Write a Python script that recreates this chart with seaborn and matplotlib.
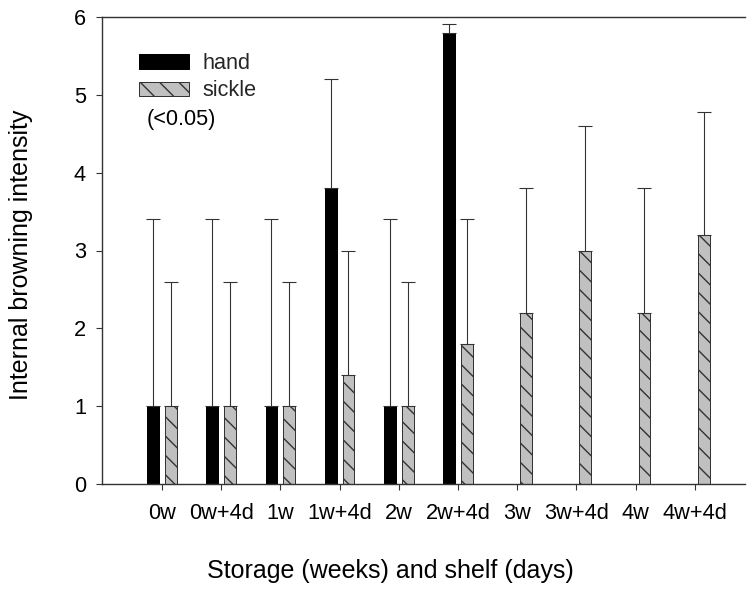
import numpy as np
import pandas as pd
import matplotlib
matplotlib.use("Agg")
import matplotlib.pyplot as plt
from matplotlib.patches import Patch
import seaborn as sns

# ---------------- data ----------------
categories = ["0w", "0w+4d", "1w", "1w+4d", "2w", "2w+4d", "3w", "3w+4d", "4w", "4w+4d"]
methods = ["hand", "sickle"]
hand_mean = [1.0, 1.0, 1.0, 3.8, 1.0, 5.8, np.nan, np.nan, np.nan, np.nan]
hand_sd = [2.4, 2.4, 2.4, 1.4, 2.4, 0.11, np.nan, np.nan, np.nan, np.nan]
sickle_mean = [1.0, 1.0, 1.0, 1.4, 1.0, 1.8, 2.2, 3.0, 2.2, 3.2]
sickle_sd = [1.6, 1.6, 1.6, 1.6, 1.6, 1.6, 1.6, 1.6, 1.6, 1.58]
y_ticks = [0, 1, 2, 3, 4, 5, 6]
note_text = "(<0.05)"
x_label = "Storage (weeks) and shelf (days)"
y_label = "Internal browning intensity"

# ---------------- style ----------------
W, H = 747, 589
DPI = 116
def pt(px):
    return px * 72.0 / DPI

sns.set_theme(style="ticks")
plt.rcParams["font.family"] = ["Liberation Sans", "DejaVu Sans"]
plt.rcParams["hatch.linewidth"] = pt(1.4)

LINE = "#333333"
FACE = {"hand": "#000000", "sickle": "#c0c0c0"}
EDGE = {"hand": "#000000", "sickle": "#333333"}
SD = {"hand": hand_sd, "sickle": sickle_sd}

rows = []
for m, means in (("hand", hand_mean), ("sickle", sickle_mean)):
    for c, v in zip(categories, means):
        if not np.isnan(v):
            rows.append({"storage": c, "method": m, "intensity": v})
df = pd.DataFrame(rows)

fig = plt.figure(figsize=(W / DPI, H / DPI), dpi=DPI)
fig.patch.set_facecolor("white")
ax = fig.add_axes([102 / W, (H - 484) / H, 643 / W, 467 / H])
ax.set_facecolor("white")

sns.barplot(data=df, x="storage", y="intensity", hue="method",
            order=categories, hue_order=methods, palette=FACE,
            width=0.6, gap=0.34, dodge=True, errorbar=None, legend=False,
            linewidth=pt(1.0), ax=ax)

# style bars and add one-sided error bars
for cont, m in zip(ax.containers, methods):
    for bar in cont:
        bar.set_edgecolor(EDGE[m])
        if m == "sickle":
            bar.set_hatch("\\\\")
        xc = bar.get_x() + bar.get_width() / 2
        idx = int(round(xc))
        h = bar.get_height()
        err = SD[m][idx]
        ax.errorbar(xc, h, yerr=[[0], [err]], fmt="none", ecolor=LINE,
                    elinewidth=pt(1.1), capsize=pt(7), capthick=pt(1.1), zorder=1)

ax.set_xlim(-1.013, 9.848)
ax.set_ylim(0, 6)
ax.set_yticks(y_ticks)
ax.set_yticklabels([str(t) for t in y_ticks])

for side in ("left", "bottom", "top"):
    ax.spines[side].set_visible(True)
    ax.spines[side].set_color(LINE)
    ax.spines[side].set_linewidth(pt(1.4))
ax.spines["right"].set_visible(False)

ax.tick_params(axis="both", direction="out", length=pt(6), width=pt(1.1),
               color=LINE, labelsize=pt(21.7), labelcolor="black")
ax.tick_params(axis="x", pad=pt(13))
ax.tick_params(axis="y", pad=pt(10))
ax.tick_params(top=False, right=False)

ax.set_xlabel(x_label, fontsize=pt(25), color="black")
ax.set_ylabel(y_label, fontsize=pt(25), color="black")
ax.xaxis.set_label_coords((390 - 102) / 643, -(559 - 484) / 467)
ax.yaxis.set_label_coords((33 - 102) / 643, (484 - 255) / 467)

# legend
handles = []
for cont, m in zip(ax.containers, methods):
    b = cont[0]
    handles.append(Patch(facecolor=b.get_facecolor(), edgecolor=b.get_edgecolor(),
                         hatch=b.get_hatch(), linewidth=pt(1.0), label=m))
fs = 21.6
ax.legend(handles=handles, loc="upper left",
          bbox_to_anchor=(139 / W, 1 - 53 / H), bbox_transform=fig.transFigure,
          frameon=False, fontsize=pt(fs), borderpad=0, borderaxespad=0,
          handlelength=50 / fs, handleheight=14 / fs, handletextpad=13 / fs,
          labelspacing=0.3)

fig.text(147 / W, 1 - 120 / H, note_text, fontsize=pt(fs), ha="left", va="center",
         color="black")

fig.savefig("out.png", dpi=DPI, facecolor="white")
